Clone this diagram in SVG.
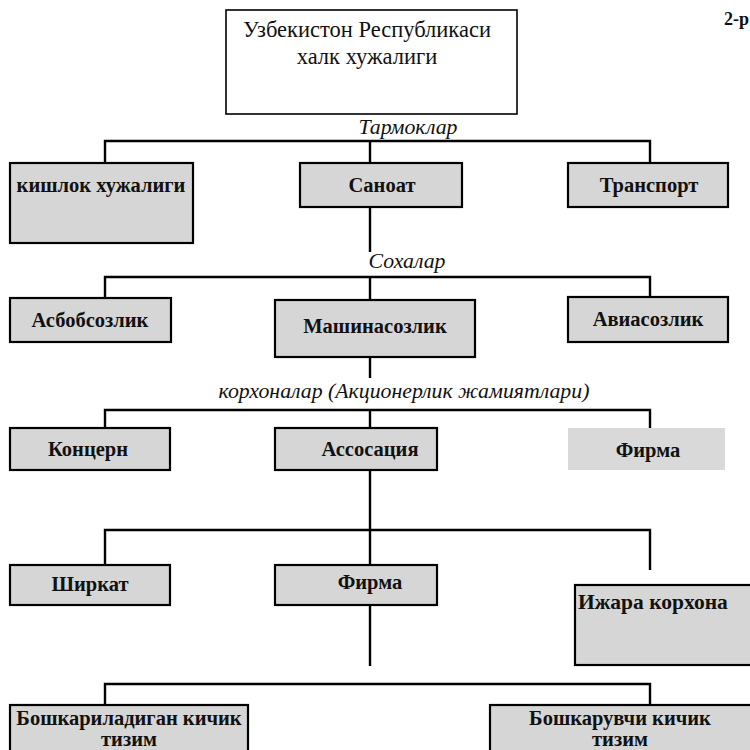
<svg xmlns="http://www.w3.org/2000/svg" width="750" height="750" viewBox="0 0 750 750">
<style>
.box{fill:#d6d6d6;stroke:#000;stroke-width:2.2}
.nb{fill:#d9d9d9;stroke:none}
.top{fill:#fff;stroke:#000;stroke-width:1.6}
.t{font-family:"Liberation Serif","Times New Roman",serif;font-weight:bold;font-size:20.5px;fill:#111;text-anchor:middle}
.tn{font-family:"Liberation Serif","Times New Roman",serif;font-size:22.5px;fill:#111;text-anchor:middle}
.it{font-family:"Liberation Serif","Times New Roman",serif;font-style:italic;font-size:21.8px;fill:#111;text-anchor:middle}
.c{fill:none;stroke:#000;stroke-width:2.4}
</style>
<rect width="750" height="750" fill="#fff"/>
<g id="connectors">
<path class="c" d="M105,165 V141 H650 V163 M370,141 V163"/>
<path class="c" d="M370,207 V252 M105,298 V277 H650 V297 M370,277 V300"/>
<path class="c" d="M370,357 V378 M105,428 V410 H650 V428 M370,410 V428"/>
<path class="c" d="M370,470 V565 M105,565 V530 H650 V570"/>
<path class="c" d="M370,605 V666"/>
<path class="c" d="M105,705 V684 H650 V705"/>
</g>
<g id="n-root"><rect class="top" x="226" y="10" width="291" height="104"/>
<text class="tn" x="367" y="37">Узбекистон Республикаси</text>
<text class="tn" x="367" y="64">халк хужалиги</text></g>
<text x="749" y="25" font-family="Liberation Serif,serif" font-weight="bold" font-size="18" fill="#111" text-anchor="end">2-р</text>
<text class="it" x="408" y="134">Тармоклар</text>
<g id="n-qishloq"><rect class="box" x="10" y="163" width="183" height="80"/><text class="t" x="101" y="192">кишлок хужалиги</text></g>
<g id="n-sanoat"><rect class="box" x="300" y="163" width="162" height="44"/><text class="t" x="382" y="192">Саноат</text></g>
<g id="n-transport"><rect class="box" x="568" y="163" width="160" height="44"/><text class="t" x="649" y="192">Транспорт</text></g>
<text class="it" x="407" y="268">Сохалар</text>
<g id="n-asbob"><rect class="box" x="10" y="298" width="161" height="44"/><text class="t" x="90" y="327">Асбобсозлик</text></g>
<g id="n-mashina"><rect class="box" x="275" y="300" width="200" height="57"/><text class="t" x="375" y="333">Машинасозлик</text></g>
<g id="n-avia"><rect class="box" x="568" y="297" width="160" height="45"/><text class="t" x="648" y="326">Авиасозлик</text></g>
<text class="it" x="404" y="398">корхоналар (Акционерлик жамиятлари)</text>
<g id="n-koncern"><rect class="box" x="10" y="428" width="160" height="42"/><text class="t" x="88" y="456">Концерн</text></g>
<g id="n-assoc"><rect class="box" x="275" y="428" width="162" height="42"/><text class="t" x="370" y="456">Ассосация</text></g>
<g id="n-firma1"><rect class="nb" x="568" y="428" width="157" height="42"/><text class="t" x="648" y="457">Фирма</text></g>
<g id="n-shirkat"><rect class="box" x="10" y="565" width="160" height="40"/><text class="t" x="90" y="591">Ширкат</text></g>
<g id="n-firma2"><rect class="box" x="275" y="565" width="162" height="40"/><text class="t" x="370" y="589">Фирма</text></g>
<g id="n-ijara"><rect class="box" x="575" y="585" width="180" height="80"/><text class="t" x="578" y="609" style="text-anchor:start;font-size:21.5px">Ижара корхона</text></g>
<g id="n-boshqariladigan"><rect class="box" x="10" y="705" width="238" height="60"/><text class="t" x="129" y="725">Бошкариладиган кичик</text><text class="t" x="129" y="746">тизим</text></g>
<g id="n-boshqaruvchi"><rect class="box" x="490" y="705" width="265" height="60"/><text class="t" x="620" y="725">Бошкарувчи кичик</text><text class="t" x="620" y="746">тизим</text></g>
</svg>
